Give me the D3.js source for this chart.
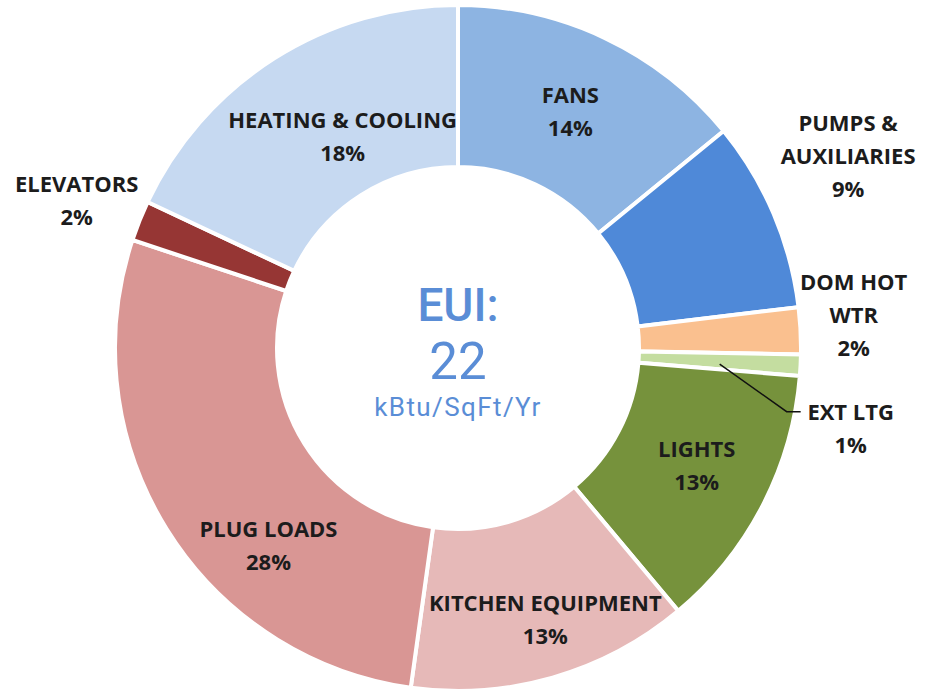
<!DOCTYPE html>
<html>
<head>
<meta charset="utf-8">
<script src="https://cdn.jsdelivr.net/npm/d3@7"></script>
<style>
  body { margin: 0; background: #fff; }
  .lbl { font-family: "Open Sans", sans-serif; font-weight: 700; fill: #1c1c1c; }
  .eui { font-family: Roboto, sans-serif; fill: #5a8dd6; text-anchor: middle; }
</style>
</head>
<body>
<div id="chart_container"></div>
<script>
// slice names, clockwise from 12 o'clock
var categories = ["FANS", "PUMPS & AUXILIARIES", "DOM HOT WTR", "EXT LTG", "LIGHTS",
                  "KITCHEN EQUIPMENT", "PLUG LOADS", "ELEVATORS", "HEATING & COOLING"];
// share of energy use (%)
var shares = [14.1, 9.0, 2.2, 1.0, 12.6, 13.3, 27.9, 1.9, 18.0];
// how the labels wrap
var labelLines = [["FANS"], ["PUMPS &", "AUXILIARIES"], ["DOM HOT", "WTR"], ["EXT LTG"], ["LIGHTS"],
                  ["KITCHEN EQUIPMENT"], ["PLUG LOADS"], ["ELEVATORS"], ["HEATING & COOLING"]];
var colors = ["#8db4e2", "#4f89d8", "#fac08f", "#c4dda0", "#76923c",
              "#e6b9b8", "#d99694", "#963634", "#c6d9f1"];
var euiValue = 22;

// label offsets from the slice centroid
var nudges = [[0, 0], [149, -89], [134, -20], [131, 67], [6, -3],
              [15, 20], [33, 59], [-138, -50], [25, 10]];

var width = 925, height = 692;
var cx = 458, cy = 348, outerR = 343, innerR = 181;

var svg = d3.select("#chart_container").append("svg")
    .attr("width", width)
    .attr("height", height);

var g = svg.append("g")
    .attr("transform", "translate(" + cx + "," + cy + ")");

var data = categories.map(function(c, i) { return { name: c, value: shares[i], i: i }; });

var pie = d3.pie().sort(null).value(function(d) { return d.value; });
var arc = d3.arc().innerRadius(innerR).outerRadius(outerR);

var arcs = pie(data);

g.selectAll("path.slice")
    .data(arcs)
    .enter().append("path")
    .attr("class", "slice")
    .attr("d", arc)
    .attr("fill", function(d) { return colors[d.data.i]; })
    .attr("stroke", "#fff")
    .attr("stroke-width", 4)
    .attr("stroke-linejoin", "miter");

var lineH = 33;

arcs.forEach(function(d) {
    var c = arc.centroid(d);
    var n = nudges[d.data.i];
    var x = c[0] + n[0], y = c[1] + n[1];
    var lines = labelLines[d.data.i].concat([Math.round(d.data.value) + "%"]);
    var y0 = y - (lines.length - 1) * lineH / 2;
    var t = g.append("text")
        .attr("class", "lbl")
        .attr("text-anchor", "middle")
        .style("font-size", "22px");
    lines.forEach(function(s, k) {
        t.append("tspan")
            .attr("x", x)
            .attr("y", y0 + k * lineH)
            .attr("dy", "0.36em")
            .text(s);
    });
    // leader line for the thin EXT LTG slice
    if (d.data.name === "EXT LTG") {
        var ly = y0;
        g.append("polyline")
            .attr("points", [[c[0], c[1] + 3], [x - 64, ly], [x - 50, ly]].map(function(p) { return p.join(","); }).join(" "))
            .attr("fill", "none")
            .attr("stroke", "#111")
            .attr("stroke-width", 1.5);
    }
});

// centre text
g.append("text").attr("class", "eui")
    .attr("y", -27)
    .style("font-size", "46px").style("font-weight", 500)
    .text("EUI:");
g.append("text").attr("class", "eui")
    .attr("y", 31)
    .style("font-size", "51px").style("font-weight", 400)
    .text(euiValue);
g.append("text").attr("class", "eui")
    .attr("y", 68)
    .style("font-size", "26px").style("font-weight", 400)
    .style("letter-spacing", "1.4px")
    .text("kBtu/SqFt/Yr");
</script>
</body>
</html>
